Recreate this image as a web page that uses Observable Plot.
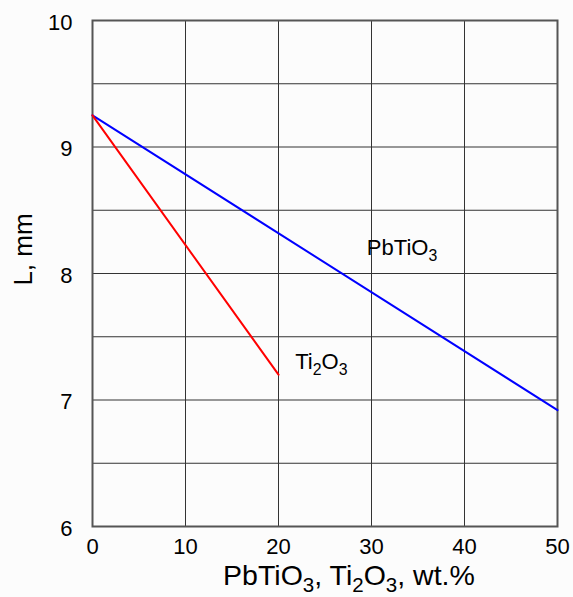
<!DOCTYPE html>
<html>
<head>
<meta charset="utf-8">
<script src="https://cdn.jsdelivr.net/npm/d3@7"></script>
<script src="https://cdn.jsdelivr.net/npm/@observablehq/plot@0.6"></script>
<style>
  html, body { margin: 0; padding: 0; background: #fcfcfc; }
  svg { font-family: "Liberation Sans", Arial, sans-serif; }
</style>
</head>
<body>
<div id="chart"></div>
<script>
// Data
const series = ["PbTiO3", "Ti2O3"];
const pbtio3X = [0, 50];
const pbtio3Y = [9.25, 6.92];
const ti2o3X = [0, 20];
const ti2o3Y = [9.25, 7.2];
const seriesColors = ["#0000ff", "#ff0000"];
const labelX = [29.5, 21.8];
const labelY = [8.2, 7.3];
const xTicks = [0, 10, 20, 30, 40, 50];
const yTicks = [6, 7, 8, 9, 10];
const xGrid = [10, 20, 30, 40];
const yGrid = [6.5, 7, 7.5, 8, 8.5, 9, 9.5];
const xTitle = "PbTiO3, Ti2O3, wt.%";
const yTitle = "L, mm";

const rows = [
  ...pbtio3X.map((x, i) => ({series: series[0], x, y: pbtio3Y[i]})),
  ...ti2o3X.map((x, i) => ({series: series[1], x, y: ti2o3Y[i]}))
];
const labels = series.map((s, i) => ({s, x: labelX[i], y: labelY[i]}));

const chart = Plot.plot({
  width: 573,
  height: 597,
  marginLeft: 92,
  marginRight: 16,
  marginTop: 20,
  marginBottom: 71,
  style: {background: "#fcfcfc", fontFamily: "Liberation Sans, Arial, sans-serif", overflow: "visible"},
  x: {domain: [0, 50]},
  y: {domain: [6, 10]},
  color: {domain: series, range: seriesColors},
  marks: [
    Plot.ruleX(xGrid, {stroke: "#333", strokeWidth: 1}),
    Plot.ruleY(yGrid, {stroke: "#333", strokeWidth: 1}),
    Plot.frame({stroke: "#555", strokeWidth: 2}),
    Plot.axisX(xTicks, {tickSize: 0, tickPadding: 12, fontSize: 22, fill: "#000", tickFormat: "d", label: null}),
    Plot.axisY(yTicks, {tickSize: 0, tickPadding: 20, fontSize: 22, fill: "#000", tickFormat: "d", label: null, dy: 2}),
    Plot.line(rows, {x: "x", y: "y", z: "series", stroke: "series", strokeWidth: 2}),
    Plot.text(labels, {x: "x", y: "y", text: "s", textAnchor: "start", fontSize: 22, fill: "#000"}),
    Plot.text([xTitle], {frameAnchor: "bottom", textAnchor: "middle", dx: 24, dy: 58, fontSize: 28.5, fill: "#000"}),
    Plot.text([yTitle], {frameAnchor: "left", textAnchor: "middle", dx: -69, dy: -24, rotate: -90, fontSize: 26, fill: "#000"})
  ]
});
document.getElementById("chart").appendChild(chart);

// Render chemical formula digits as subscripts
const subMap = {
  "PbTiO3": [["PbTiO", false], ["3", true]],
  "Ti2O3": [["Ti", false], ["2", true], ["O", false], ["3", true]],
  "PbTiO3, Ti2O3, wt.%": [["PbTiO", false], ["3", true], [", Ti", false], ["2", true], ["O", false], ["3", true], [", wt.%", false]]
};
chart.querySelectorAll("text").forEach(t => {
  const parts = subMap[t.textContent];
  if (!parts) return;
  const fs = parseFloat(t.getAttribute("font-size") || getComputedStyle(t).fontSize) || 22;
  const shift = fs * 0.28;
  while (t.firstChild) t.removeChild(t.firstChild);
  let down = false;
  for (const [str, sub] of parts) {
    const ts = document.createElementNS("http://www.w3.org/2000/svg", "tspan");
    ts.textContent = str;
    if (sub && !down) { ts.setAttribute("dy", shift); down = true; }
    else if (!sub && down) { ts.setAttribute("dy", -shift); down = false; }
    if (sub) ts.setAttribute("font-size", fs * 0.72);
    t.appendChild(ts);
  }
});
</script>
</body>
</html>
